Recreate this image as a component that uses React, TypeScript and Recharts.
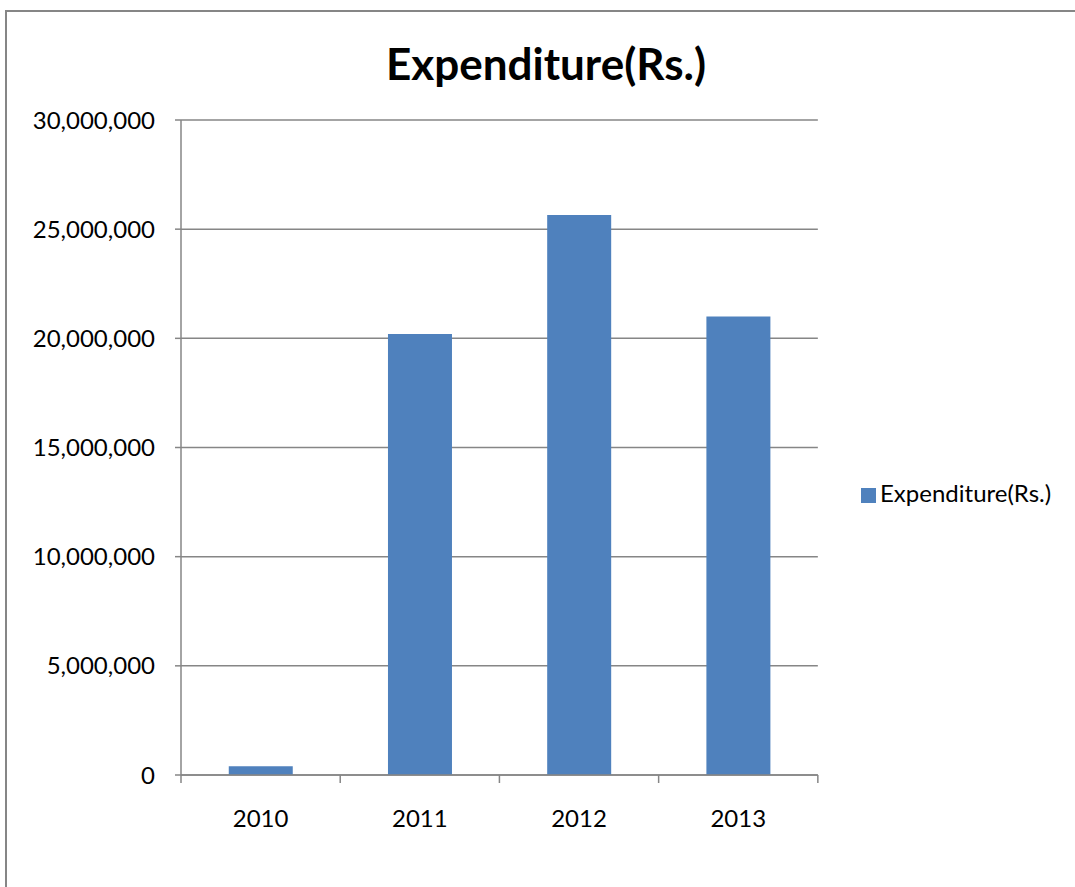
import { Bar, BarChart, CartesianGrid, Legend, XAxis, YAxis } from 'recharts';

const years = ['2010', '2011', '2012', '2013'];
const expenditure = [400000, 20200000, 25650000, 21000000];
const yTicks = [0, 5000000, 10000000, 15000000, 20000000, 25000000, 30000000];
const boundaryTicks = [0, 1, 2, 3, 4];

const rows = years.map((year, i) => ({ year, pos: i + 0.5, value: expenditure[i] }));

const font = 'Lato, "Open Sans", sans-serif';
const grey = '#868686';

const NoLabel = () => <g />;

export default function App() {
  return (
    <div style={{ position: 'absolute', left: 0, top: 0, width: 1075, height: 887, overflow: 'hidden', background: '#fff', fontFamily: font }}>
      <div style={{ position: 'absolute', left: 5, top: 10, width: 1100, height: 900, border: `2px solid ${grey}` }} />
      <div style={{ position: 'absolute', left: 0, width: 1092, top: 37, textAlign: 'center', fontSize: 44, fontWeight: 'bold', color: '#000' }}>
        Expenditure(Rs.)
      </div>
      <BarChart
        width={1075}
        height={887}
        data={rows}
        margin={{ top: 120, right: 57, bottom: 72, left: 0 }}
        barCategoryGap="30%"
        style={{ position: 'absolute', left: 0, top: 0 }}
      >
        <CartesianGrid horizontal vertical={false} stroke={grey} strokeWidth={1.5} />
        <XAxis
          type="number"
          dataKey="pos"
          domain={[0, 4]}
          ticks={boundaryTicks}
          tick={NoLabel}
          tickSize={8}
          tickLine={{ stroke: grey, strokeWidth: 1.5 }}
          axisLine={{ stroke: grey, strokeWidth: 1.5 }}
          height={10}
        />
        <XAxis
          xAxisId="cat"
          dataKey="year"
          tickLine={false}
          axisLine={false}
          tick={{ fill: '#000', fontSize: 24, fontFamily: font }}
          tickMargin={19}
          height={30}
        />
        <YAxis
          width={181}
          domain={[0, 30000000]}
          ticks={yTicks}
          tickFormatter={(v: number) => v.toLocaleString('en-US')}
          tick={{ fill: '#000', fontSize: 24, fontFamily: font }}
          tickSize={6}
          tickMargin={20}
          tickLine={{ stroke: grey, strokeWidth: 1.5 }}
          axisLine={{ stroke: grey, strokeWidth: 1.5 }}
        />
        <Legend
          layout="vertical"
          align="right"
          verticalAlign="middle"
          iconType="square"
          iconSize={15}
          wrapperStyle={{ left: 861, top: 478, right: 'auto', fontSize: 24, fontFamily: font }}
          formatter={(v: string) => <span style={{ color: '#000' }}>{v}</span>}
        />
        <Bar xAxisId="cat" dataKey="value" name="Expenditure(Rs.)" fill="#4F81BD" isAnimationActive={false} />
      </BarChart>
    </div>
  );
}
